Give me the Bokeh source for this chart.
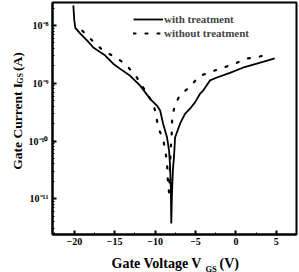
import math
from bokeh.plotting import figure
from bokeh.layouts import row, column
from bokeh.models import Range1d, LogTicker, SingleIntervalTicker, CustomJSTickFormatter, Label, Legend, LegendItem
from bokeh.embed import file_html
from bokeh.resources import INLINE

# Gate voltage (V) and log10 of gate current (A)
with_v = [-20.12, -20.0, -19.88, -19.26, -18.40, -17.65, -16.17, -15.19, -14.32, -13.09,
          -11.85, -10.62, -9.75, -9.38, -9.01, -8.52, -8.27, -8.15, -8.05, -8.00,
          -7.92, -7.80, -7.65, -7.53, -6.91, -6.30, -5.68, -5.06, -4.44, -4.07,
          -3.21, -2.35, -0.74, 0.86, 2.59, 4.81]
with_exp = [-7.65, -7.91, -8.04, -8.14, -8.26, -8.38, -8.52, -8.66, -8.75, -8.87,
            -9.04, -9.27, -9.39, -9.47, -9.70, -9.94, -10.17, -10.43, -10.86, -11.43,
            -10.95, -10.51, -10.25, -9.94, -9.70, -9.53, -9.44, -9.33, -9.18, -9.13,
            -8.95, -8.90, -8.82, -8.73, -8.66, -8.57]

without_v = [-19.01, -17.78, -16.54, -15.06, -13.70, -12.35, -10.99, -10.25, -9.88, -9.63,
             -9.01, -8.77, -8.52, -8.40, -8.27, -8.15, -8.02, -7.90, -7.90, -7.53,
             -6.91, -5.68, -4.57, -3.09, -1.60, -0.12, 1.36, 2.84, 4.32]
without_exp = [-8.09, -8.26, -8.42, -8.54, -8.66, -8.88, -9.18, -9.35, -9.54, -9.77,
               -9.96, -10.15, -10.37, -10.77, -10.89, -10.43, -10.01, -9.80, -9.59, -9.37,
               -9.20, -9.06, -8.88, -8.80, -8.73, -8.66, -8.57, -8.54, -8.49]

series_labels = ["with treatment", "without treatment"]

with_i = [10 ** e for e in with_exp]
without_i = [10 ** e for e in without_exp]

FONT = "Liberation Serif"
YLAB_W = 25
XLAB_H = 18

p = figure(width=299 - YLAB_W, height=272 - XLAB_H, y_axis_type="log",
           x_range=Range1d(-22.7, 7.5), y_range=Range1d(10 ** -11.62, 10 ** -7.6),
           output_backend="svg", toolbar_location=None,
           min_border_left=52 - YLAB_W, min_border_right=3, min_border_top=2,
           min_border_bottom=272 - XLAB_H - 234)

p.xgrid.visible = False
p.ygrid.visible = False
p.outline_line_color = "black"
p.outline_line_width = 2
p.background_fill_color = "white"
p.border_fill_color = "white"

r1 = p.line(with_v, with_i, line_color="black", line_width=1.8)
r2 = p.line(without_v, without_i, line_color="black", line_width=2.2,
            line_dash="2 10", line_cap="round")

legend = Legend(items=[LegendItem(label=series_labels[0], renderers=[r1]),
                       LegendItem(label=series_labels[1], renderers=[r2])],
                location=(81, 194), border_line_alpha=0, background_fill_alpha=0,
                label_text_font=FONT, label_text_font_style="bold",
                label_text_font_size="11px", glyph_width=30, glyph_height=14,
                label_height=14, spacing=0, padding=0, margin=0, label_standoff=1)
p.add_layout(legend)

# axes
xax = p.xaxis[0]
xax.ticker = SingleIntervalTicker(interval=5, num_minor_ticks=2)
yax = p.yaxis[0]
yax.ticker = LogTicker(num_minor_ticks=10)
yax.formatter = CustomJSTickFormatter(code="""
const e = Math.round(Math.log10(tick));
const sup = {"-":"\u207b","0":"\u2070","1":"\u00b9","2":"\u00b2","3":"\u00b3","4":"\u2074",
             "5":"\u2075","6":"\u2076","7":"\u2077","8":"\u2078","9":"\u2079"};
return "10" + String(e).split("").map(c => sup[c]).join("");
""")
for ax in (xax, yax):
    ax.axis_line_width = 2
    ax.major_tick_in = 4
    ax.major_tick_out = 0
    ax.minor_tick_in = 2
    ax.minor_tick_out = 0
    ax.major_tick_line_width = 2
    ax.minor_tick_line_width = 1
    ax.major_label_text_font = FONT
    ax.major_label_text_font_style = "bold"
    ax.major_label_text_font_size = "10px"
    ax.major_label_text_color = "black"
xax.major_label_standoff = 3
yax.major_label_standoff = 4


def label_fig(w, h):
    f = figure(width=w, height=h, x_range=Range1d(0, w), y_range=Range1d(0, h),
               x_axis_type=None, y_axis_type=None, output_backend="svg",
               toolbar_location=None, min_border=0)
    f.xgrid.visible = False
    f.ygrid.visible = False
    f.outline_line_color = None
    f.background_fill_color = "white"
    f.border_fill_color = "white"
    return f


def lab(f, text, x, y, size, angle=0):
    f.add_layout(Label(x=x, y=y, text=text, text_font=FONT, text_font_style="bold",
                       text_font_size=size, text_color="black", text_align="left",
                       text_baseline="alphabetic", angle=angle))


# y-axis title: Gate Current I_GS (A)
H = 272 - XLAB_H
fy = label_fig(YLAB_W, H)
lab(fy, "Gate Current I", 17, H - 183, "13.5px", angle=math.pi / 2)
lab(fy, "GS", 19.5, H - 89, "8px", angle=math.pi / 2)
lab(fy, "(A)", 17, H - 75, "13.5px", angle=math.pi / 2)

# x-axis title: Gate Voltage V_GS (V)
fx = label_fig(299, XLAB_H)
lab(fx, "Gate Voltage V", 111, 272 - 263, "14px")
lab(fx, "GS", 205, 272 - 268, "8.5px")
lab(fx, "(V)", 219, 272 - 263, "14px")

layout = column(row(fy, p, spacing=0), fx, spacing=0)

open("out.html", "w").write(file_html(layout, INLINE))
